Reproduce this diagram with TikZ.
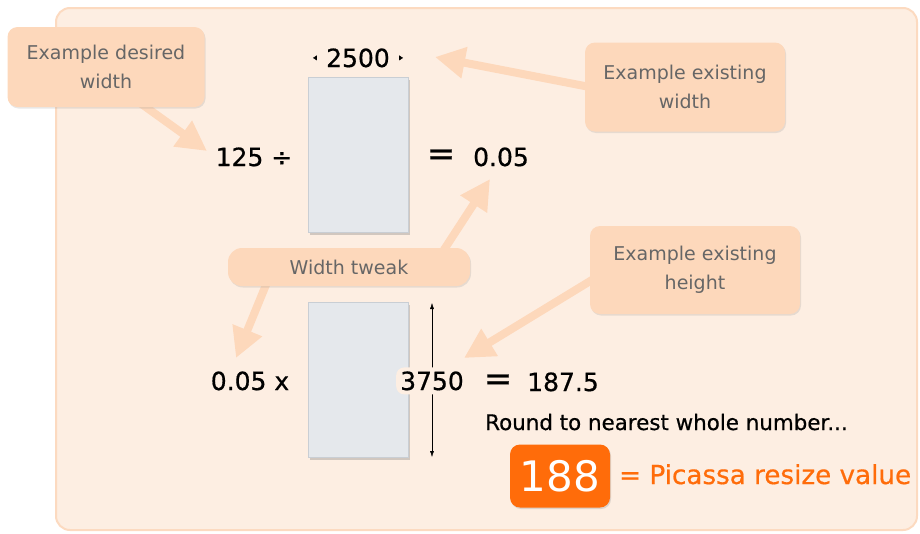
\documentclass[tikz,border=0pt]{standalone}
\usepackage{fontspec}
\setmainfont{DejaVu Sans}
\newfontfamily\sumface[FakeBold=0.6]{DejaVu Sans}
\usetikzlibrary{arrows.meta,shadows}
\definecolor{panelfill}{HTML}{FDEEE2}
\definecolor{paneledge}{HTML}{FCDAC0}
\definecolor{calloutfill}{HTML}{FDD8BB}
\definecolor{calloutgray}{HTML}{666666}
\definecolor{paperfill}{HTML}{E5E8EC}
\definecolor{paperedge}{HTML}{C9CED4}
\definecolor{resizeorange}{HTML}{FF6C0A}
\newcommand{\sumfont}{\sumface\fontsize{25}{30}\selectfont}
\tikzset{
	callout/.style={fill=calloutfill, rounded corners=10pt, text=calloutgray, align=center,
		font=\fontsize{19}{29}\selectfont, inner sep=0pt,
		drop shadow={opacity=0.18, shadow xshift=1pt, shadow yshift=-1.5pt}},
	bigarrow/.style={draw=calloutfill, line width=8pt, -{Triangle[length=30pt,width=30pt]}},
	paper/.style={fill=paperfill, draw=paperedge, minimum width=100pt, minimum height=155pt, inner sep=0pt,
		drop shadow={opacity=0.35, shadow xshift=1.5pt, shadow yshift=-2pt}},
	sum/.style={font=\sumfont, inner sep=1pt, anchor=base},
	equals/.style={font=\sumface\fontsize{34}{34}\selectfont, inner sep=0pt, anchor=base},
}

\begin{document}
\begin{tikzpicture}[x=1pt,y=-1pt]
	\useasboundingbox (0,0) rectangle (920,533);
	\draw[fill=panelfill, draw=paneledge, line width=2pt, rounded corners=14pt] (56,8) rectangle (917,530);

	% arrow ends
	\coordinate (dwfoot) at (136,100);
	\coordinate (dwtip) at (207,151);
	\coordinate (ewfoot) at (600,89);
	\coordinate (ewtip) at (435,57);
	\coordinate (upfoot) at (436,262);
	\coordinate (uptip) at (490,179);
	\coordinate (downfoot) at (270,275);
	\coordinate (downtip) at (236,358);
	\coordinate (ehfoot) at (605,272);
	\coordinate (ehtip) at (464,358);
	\coordinate (htop) at (432,303);
	\coordinate (hbot) at (432,457);

	\draw[bigarrow] (dwfoot) -- (dwtip);
	\draw[bigarrow] (ewfoot) -- (ewtip);
	\draw[bigarrow] (upfoot) -- (uptip);
	\draw[bigarrow] (downfoot) -- (downtip);
	\draw[bigarrow] (ehfoot) -- (ehtip);

	\node[callout, minimum width=197pt, minimum height=80pt] (desired) at (106,67) {Example desired\\width};
	\node[callout, minimum width=200pt, minimum height=89pt] (exwidth) at (685,87) {Example existing\\width};
	\node[callout, minimum width=242pt, minimum height=38pt, rounded corners=14pt] (tweak) at (349,267) {Width tweak};
	\node[callout, minimum width=210pt, minimum height=88pt] (exheight) at (695,270) {Example existing\\height};

	% first line
	\node[paper] (paper1) at (358,155) {};
	\node[sum] (divide) at (254,166) {125 ÷};
	\node[sum, inner xsep=10pt] (w2500) at (358,67) {2500};
	\draw[-{Triangle[length=4pt,width=5pt]}] (w2500.west) -- ++(-3,0);
	\draw[-{Triangle[length=4pt,width=5pt]}] (w2500.east) -- ++(3,0);
	\node[equals] (eqa) at (441,165) {=};
	\node[sum] (tweakval) at (501,166) {0.05};

	% second line
	\node[paper] (paper2) at (358,380) {};
	\node[sum] (times) at (250,390) {0.05 x};
	\draw[{Latex[length=6pt,width=4pt]}-{Latex[length=6pt,width=4pt]}] (htop) -- (hbot);
	\node[sum, fill=panelfill, rounded corners=8pt, inner sep=4pt] (h3750) at (432,390) {3750};
	\node[equals] (eqb) at (498,390) {=};
	\node[sum] (result) at (563,391) {187.5};
	\node[anchor=base west, font=\sumface\fontsize{21.4}{24}\selectfont, inner sep=0pt] (round) at (485,430) {Round to nearest whole number...};

	\node[fill=resizeorange, rounded corners=10pt, minimum width=100pt, minimum height=63pt, text=white,
		font=\fontsize{42}{46}\selectfont, inner sep=0pt,
		drop shadow={opacity=0.25, shadow xshift=1pt, shadow yshift=-1.5pt}] (final) at (560,476) {188};
	\node[anchor=base west, text=resizeorange, font=\sumface\fontsize{26.2}{30}\selectfont, inner sep=0pt] (picassa) at (619,484) {= Picassa resize value};
\end{tikzpicture}
\end{document}
